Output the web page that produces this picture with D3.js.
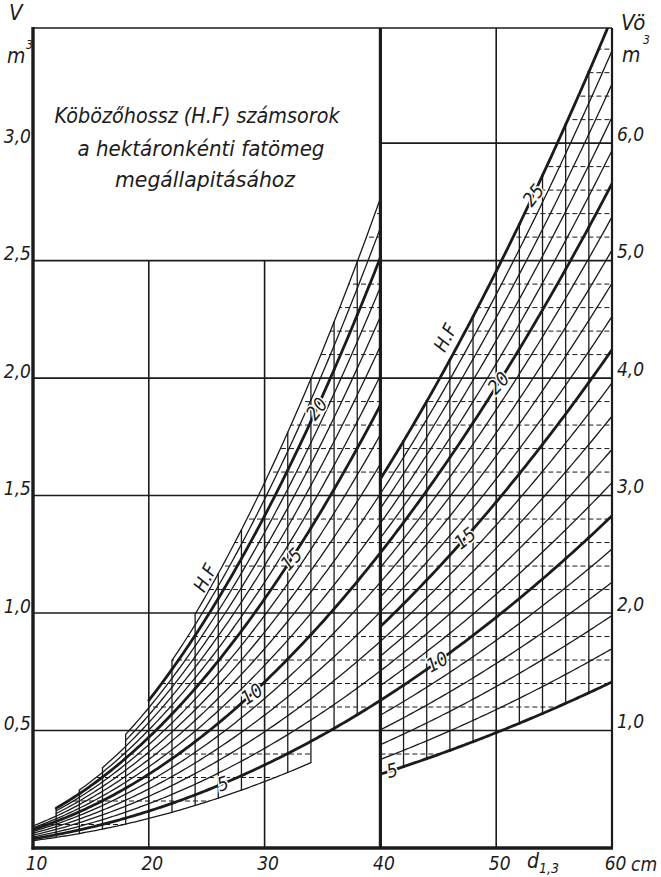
<!DOCTYPE html>
<html>
<head>
<meta charset="utf-8">
<script src="https://cdn.jsdelivr.net/npm/d3@7/dist/d3.min.js"></script>
<style>
  html, body { margin: 0; padding: 0; background: #fff; }
  svg { display: block; }
  text { font-family: "Liberation Sans Narrow", "DejaVu Sans Condensed", "Liberation Sans", sans-serif; font-style: italic; fill: #1b1b1b; }
</style>
</head>
<body>
<svg id="chart" width="661" height="877"></svg>
<script>
// ---- data -------------------------------------------------------------
// breast-height diameter ticks (cm)
const diameterTicks = [10, 20, 30, 40, 50, 60];
// stem volume ticks: left panel V (m3), right panel Vö (m3)
const volumeTicksLeft = [0.5, 1.0, 1.5, 2.0, 2.5, 3.0];
const volumeTicksRight = [1, 2, 3, 4, 5, 6];

// 2 cm diameter classes and the form-height (H.F) range tabulated in each
const leftClassStart = [10, 12, 14, 16, 18, 20, 22, 24, 26, 28, 30, 32, 34, 36, 38];
const leftHfLow      = [4, 4, 4, 4, 4, 4, 4, 4, 4, 4, 4, 4, 5, 5, 5];
const leftHfHigh     = [12, 15, 16, 17, 19, 20, 21, 22, 22, 22, 22, 22, 22, 22, 22];
const rightClassStart = [40, 42, 44, 46, 48, 50, 52, 54, 56, 58];
const rightHfLow      = [5, 5, 5, 5, 5, 5, 5, 5, 5, 5];
const rightHfHigh     = [25, 25, 25, 25, 25, 25, 25, 25, 25, 25];
const classWidth = 2;
const boldEvery = 5;

// curve labels: text, diameter (cm) and H.F value where they sit
const leftLabelText = ["20", "15", "10", "5", "H.F"];
const leftLabelD    = [34.5, 32.3, 28.9, 26.4, 24.85];
const leftLabelHf   = [20, 15, 10, 5, 23.7];
const rightLabelText = ["25", "20", "15", "10", "5", "H.F"];
const rightLabelD    = [53.2, 50.2, 47.3, 44.9, 41.0, 45.6];
const rightLabelHf   = [25, 20, 15, 10, 5, 26.6];

const titleLines = ["Köbözőhossz (H.F) számsorok", "a hektáronkénti fatömeg", "megállapitásához"];

// ---- geometry ----------------------------------------------------------
const svg = d3.select("#chart");
const ink = "#1b1b1b";
const frameL = 33, frameR = 612, frameT = 28, frameB = 848;

const x = d3.scaleLinear().domain([10, 60]).range([frameL, frameR]);
const yL = d3.scaleLinear().domain([0, 3.49]).range([frameB, frameT]);
const yR = d3.scaleLinear().domain([0, 6.98]).range([frameB, frameT]);

// stem volume = basal area * form height
const vol = (d, hf) => Math.PI / 4 * (d / 100) * (d / 100) * hf;
const comma = v => d3.format(".1f")(v).replace(".", ",");

const defs = svg.append("defs");
defs.append("clipPath").attr("id", "frameClip")
  .append("rect").attr("x", frameL).attr("y", frameT).attr("width", frameR - frameL).attr("height", frameB - frameT);

function buildPanel(name, starts, lows, highs, y, step, major, labels) {
  const classes = starts.map((d0, i) => ({ d0, d1: d0 + classWidth, lo: lows[i], hi: highs[i] }));
  const dMin = classes[0].d0, dMax = classes[classes.length - 1].d1;

  // region outline used to clip the dashed volume lines
  const regionPath = classes.map(c => {
    const ds = d3.range(0, 9).map(k => c.d0 + (c.d1 - c.d0) * k / 8);
    const upper = ds.map(d => [x(d), y(vol(d, c.hi))]);
    const lower = ds.slice().reverse().map(d => [x(d), y(vol(d, c.lo))]);
    return "M" + upper.concat(lower).map(p => p.join(",")).join("L") + "Z";
  }).join("");
  defs.append("clipPath").attr("id", name + "Region").append("path").attr("d", regionPath);

  const g = svg.append("g").attr("clip-path", "url(#frameClip)");

  // dashed volume lines inside the tabulated region
  const dashed = g.append("g").attr("clip-path", `url(#${name}Region)`);
  const nMax = Math.floor(y.domain()[1] / step + 1e-9);
  const perMajor = Math.round(major / step);
  for (let i = 1; i <= nMax; i++) {
    if (i % perMajor === 0) continue;
    const v = i * step;
    dashed.append("line")
      .attr("x1", x(dMin)).attr("x2", x(dMax))
      .attr("y1", y(v)).attr("y2", y(v))
      .attr("stroke", ink).attr("stroke-width", 1)
      .attr("stroke-dasharray", "5,3");
  }

  // class boundary verticals
  const bounds = Array.from(new Set(classes.flatMap(c => [c.d0, c.d1])));
  bounds.forEach(b => {
    if (b % 10 === 0) return;
    const adj = classes.filter(c => c.d0 === b || c.d1 === b);
    const lo = d3.min(adj, c => c.lo), hi = d3.max(adj, c => c.hi);
    g.append("line")
      .attr("x1", x(b)).attr("x2", x(b))
      .attr("y1", y(vol(b, lo))).attr("y2", y(vol(b, hi)))
      .attr("stroke", ink).attr("stroke-width", 1.3);
  });

  // H.F curves, one segment per class
  const line = d3.line().x(p => x(p[0])).y(p => y(p[1]));
  const thin = g.append("g"), bold = g.append("g");
  classes.forEach(c => {
    const ds = d3.range(0, 9).map(k => c.d0 + (c.d1 - c.d0) * k / 8);
    for (let h = c.lo; h <= c.hi; h++) {
      const isBold = h % boldEvery === 0;
      (isBold ? bold : thin).append("path")
        .attr("d", line(ds.map(d => [d, vol(d, h)])))
        .attr("fill", "none").attr("stroke", ink)
        .attr("stroke-width", isBold ? 2.8 : 1.3)
        .attr("stroke-linecap", "round");
    }
  });

  // curve labels
  labels.text.forEach((t, i) => {
    const d = labels.d[i], hf = labels.hf[i];
    const px = x(d), py = y(vol(d, hf));
    const a = Math.atan2(y(vol(d + 0.5, hf)) - y(vol(d - 0.5, hf)), x(d + 0.5) - x(d - 0.5)) * 180 / Math.PI;
    const rot = t === "H.F" ? a : a * 0.8;
    svg.append("text")
      .attr("class", "curve-label")
      .attr("transform", `translate(${px},${py}) rotate(${rot})`)
      .attr("text-anchor", "middle").attr("dy", "0.35em")
      .attr("font-size", 19)
      .attr("stroke", "#fff").attr("stroke-width", 3).attr("paint-order", "stroke")
      .text(t);
  });
}

// ---- grid and frame ----------------------------------------------------
const grid = svg.append("g").attr("stroke", ink).attr("fill", "none");
// left panel horizontals (below the title box)
volumeTicksLeft.filter(v => v < 3).forEach(v =>
  grid.append("line").attr("x1", x(10)).attr("x2", x(40)).attr("y1", yL(v)).attr("y2", yL(v)).attr("stroke-width", 1.6));
// right panel horizontals
volumeTicksRight.forEach(v =>
  grid.append("line").attr("x1", x(40)).attr("x2", x(60)).attr("y1", yR(v)).attr("y2", yR(v)).attr("stroke-width", 1.6));
// diameter verticals
[20, 30].forEach(d =>
  grid.append("line").attr("x1", x(d)).attr("x2", x(d)).attr("y1", yL(2.5)).attr("y2", frameB).attr("stroke-width", 1.6));
grid.append("line").attr("x1", x(50)).attr("x2", x(50)).attr("y1", frameT).attr("y2", frameB).attr("stroke-width", 1.6);
// frame
grid.append("line").attr("x1", frameL).attr("x2", frameR).attr("y1", frameT).attr("y2", frameT).attr("stroke-width", 1.6);
grid.append("line").attr("x1", frameR).attr("x2", frameR).attr("y1", frameT).attr("y2", frameB).attr("stroke-width", 2.2);
grid.append("line").attr("x1", x(40)).attr("x2", x(40)).attr("y1", frameT).attr("y2", frameB).attr("stroke-width", 3.2);

buildPanel("left", leftClassStart, leftHfLow, leftHfHigh, yL, 0.1, 0.5,
  { text: leftLabelText, d: leftLabelD, hf: leftLabelHf });
buildPanel("right", rightClassStart, rightHfLow, rightHfHigh, yR, 0.2, 1.0,
  { text: rightLabelText, d: rightLabelD, hf: rightLabelHf });

grid.raise();
svg.selectAll(".curve-label").raise();
svg.append("line").attr("x1", frameL).attr("x2", frameL).attr("y1", frameT - 1).attr("y2", frameB + 1.5)
  .attr("stroke", ink).attr("stroke-width", 3.4);
svg.append("line").attr("x1", frameL - 1.5).attr("x2", frameR + 1).attr("y1", frameB).attr("y2", frameB)
  .attr("stroke", ink).attr("stroke-width", 3.4);

// ---- axes --------------------------------------------------------------
function styleAxis(sel) {
  sel.select(".domain").remove();
  sel.selectAll(".tick line").remove();
  sel.attr("font-family", null).attr("font-size", null);
  sel.selectAll("text").attr("fill", ink).attr("font-size", 19);
}
svg.append("g").attr("transform", `translate(${frameL - 2},0)`)
  .call(d3.axisLeft(yL).tickValues(volumeTicksLeft).tickSize(0).tickPadding(0).tickFormat(comma))
  .call(styleAxis)
  .selectAll("text").attr("dy", "-0.05em");
svg.append("g").attr("transform", `translate(${frameR + 5},0)`)
  .call(d3.axisRight(yR).tickValues(volumeTicksRight).tickSize(0).tickPadding(0).tickFormat(comma))
  .call(styleAxis)
  .selectAll("text").attr("dy", "-0.15em");
svg.append("g").attr("transform", `translate(3,${frameB + 6})`)
  .call(d3.axisBottom(x).tickValues(diameterTicks).tickSize(0).tickPadding(0).tickFormat(d3.format("d")))
  .call(styleAxis)
  .selectAll("text").attr("dy", "0.85em");

svg.append("text").attr("x", 631).attr("y", 871).attr("font-size", 19).text("cm");
const dLab = svg.append("text").attr("x", 527).attr("y", 868).attr("font-size", 21);
dLab.append("tspan").text("d");
dLab.append("tspan").attr("dy", 5).attr("font-size", 14).text("1,3");

// axis titles
svg.append("text").attr("x", 9).attr("y", 20).attr("font-size", 22).text("V");
svg.append("text").attr("x", 7).attr("y", 63).attr("font-size", 21).text("m");
svg.append("text").attr("x", 26).attr("y", 49).attr("font-size", 12).text("3");
svg.append("text").attr("x", 621).attr("y", 30).attr("font-size", 22).text("Vö");
svg.append("text").attr("x", 622).attr("y", 62).attr("font-size", 21).text("m");
svg.append("text").attr("x", 643).attr("y", 44).attr("font-size", 12).text("3");

// title block
const titleX = [197, 201, 205], titleY = [123, 156, 187], titleW = [285, 247, 180];
titleLines.forEach((t, i) =>
  svg.append("text").attr("x", titleX[i]).attr("y", titleY[i]).attr("text-anchor", "middle")
    .attr("font-size", 21).attr("textLength", titleW[i]).attr("lengthAdjust", "spacingAndGlyphs").text(t));
</script>
</body>
</html>
